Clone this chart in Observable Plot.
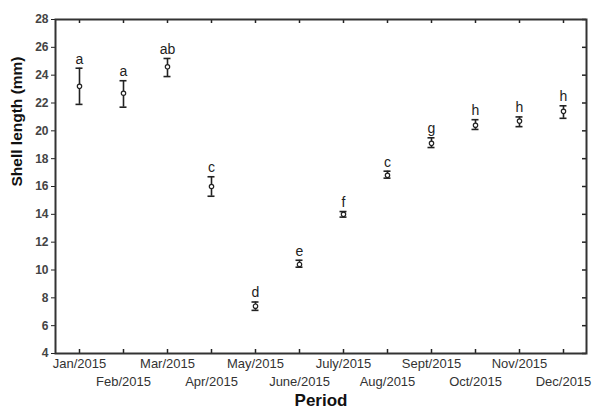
<!DOCTYPE html>
<html>
<head>
<meta charset="utf-8">
<script src="https://cdn.jsdelivr.net/npm/d3@7"></script>
<script src="https://cdn.jsdelivr.net/npm/@observablehq/plot@0.6"></script>
<style>
  html, body { margin: 0; padding: 0; background: #fff; }
  #chart svg { display: block; }
</style>
</head>
<body>
<div id="chart"></div>
<script>
const months = ["Jan/2015","Feb/2015","Mar/2015","Apr/2015","May/2015","June/2015","July/2015","Aug/2015","Sept/2015","Oct/2015","Nov/2015","Dec/2015"];
const means  = [23.2, 22.7, 24.6, 16.0, 7.4, 10.4, 14.0, 16.8, 19.1, 20.4, 20.7, 21.4];
const lows   = [21.9, 21.7, 23.9, 15.3, 7.1, 10.2, 13.8, 16.6, 18.8, 20.1, 20.3, 20.9];
const highs  = [24.5, 23.6, 25.2, 16.7, 7.7, 10.7, 14.2, 17.1, 19.5, 20.8, 21.0, 21.8];
const letters = ["a","a","ab","c","d","e","f","c","g","h","h","h"];
const yTicks = [4,6,8,10,12,14,16,18,20,22,24,26,28];
const row1 = months.filter((m, i) => i % 2 === 0);
const row2 = months.filter((m, i) => i % 2 === 1);

const data = months.map((m, i) => ({month: m, mean: means[i], lo: lows[i], hi: highs[i], letter: letters[i]}));

const W = 592, H = 415;
const mL = 55, mR = 6, mT = 19, mB = 62;
const innerW = W - mL - mR, innerH = H - mT - mB;

const chart = Plot.plot({
  width: W,
  height: H,
  marginLeft: mL,
  marginRight: mR,
  marginTop: mT,
  marginBottom: mB,
  style: {fontFamily: "Arial, 'Liberation Sans', sans-serif", background: "#fff"},
  x: {type: "band", domain: months, paddingInner: 0, paddingOuter: 0},
  y: {domain: [4, 28]},
  marks: [
    // axes
    Plot.axisY({ticks: yTicks, tickSize: 4, tickPadding: 3, fontSize: 12, fontWeight: "bold", fill: "#444", stroke: "#222", label: null}),
    Plot.axisX({ticks: row1, tickSize: 0, tickPadding: 5, fontSize: 13, fill: "#333", label: null}),
    Plot.axisX({ticks: row2, tickSize: 0, tickPadding: 23, fontSize: 13, fill: "#333", label: null}),
    // inner ticks (bottom, top, right)
    Plot.tickX(months, {x: d => d, insetTop: innerH - 4, stroke: "#222", strokeWidth: 1.5}),
    Plot.tickX(months, {x: d => d, insetBottom: innerH - 4, stroke: "#222", strokeWidth: 1.5}),
    Plot.tickY(yTicks, {y: d => d, insetLeft: innerW - 4, stroke: "#222", strokeWidth: 1.5}),
    Plot.frame({stroke: "#333", strokeWidth: 2}),
    // error bars
    Plot.ruleX(data, {x: "month", y1: "lo", y2: "hi", stroke: "#222", strokeWidth: 1.6}),
    Plot.tickY(data, {x: "month", y: "hi", insetLeft: 18.5, insetRight: 18.5, stroke: "#222", strokeWidth: 1.6}),
    Plot.tickY(data, {x: "month", y: "lo", insetLeft: 18.5, insetRight: 18.5, stroke: "#222", strokeWidth: 1.6}),
    Plot.dot(data, {x: "month", y: "mean", r: 2.2, fill: "#fff", stroke: "#222", strokeWidth: 1.2}),
    // significance letters
    Plot.text(data, {x: "month", y: "hi", text: "letter", dy: -9, fontSize: 14, fill: "#222"}),
    // axis titles
    Plot.text(["Period"], {frameAnchor: "bottom", dy: 52, fontSize: 17, fontWeight: "bold", fill: "#111"}),
    Plot.text(["Shell length (mm)"], {frameAnchor: "left", dx: -38, rotate: -90, fontSize: 15.5, fontWeight: "bold", fill: "#111"})
  ]
});
document.getElementById("chart").appendChild(chart);
</script>
</body>
</html>
